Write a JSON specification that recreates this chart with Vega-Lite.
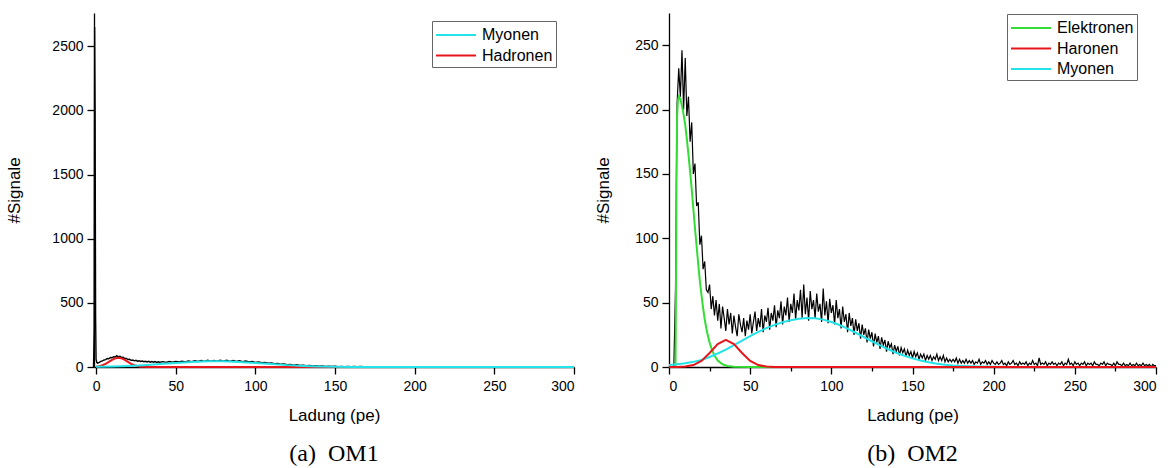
{
  "$schema": "https://vega.github.io/schema/vega-lite/v6.json",
  "background": "white",
  "padding": {"left": 5, "top": 13, "right": 5, "bottom": 5},
  "spacing": 16,
  "resolve": {"scale": {"color": "independent"}, "legend": {"color": "independent"}},
  "config": {
    "view": {"stroke": null},
    "font": "Liberation Sans",
    "axis": {"grid": false, "domainColor": "black", "tickColor": "black", "labelColor": "black", "titleColor": "black", "labelFont": "Liberation Sans", "titleFont": "Liberation Sans", "labelFontSize": 14, "titleFontSize": 17, "titleFontWeight": "normal", "domainWidth": 1.3, "tickWidth": 1.3, "format": "d",
      "tickSize": {"condition": {"test": "datum.value % 50 === 0", "value": 7}, "value": 4}},
    "legend": {"orient": "none", "symbolType": "M-2,0H2", "symbolSize": 400, "symbolStrokeWidth": 2, "symbolOffset": 10, "labelFont": "Liberation Sans", "labelFontSize": 16, "labelColor": "black", "strokeColor": "#666", "fillColor": "white", "padding": 3, "rowPadding": 1.5, "labelOffset": 15, "title": null},
    "title": {"font": "Liberation Serif", "fontSize": 24, "fontWeight": "normal", "color": "black", "orient": "bottom", "anchor": "middle"}
  },
  "datasets": {
    "l_dat": [
      {"x":-2,"y":0},{"x":-1.6,"y":0},{"x":-1.2,"y":300},{"x":-0.9,"y":2650},{"x":-0.6,"y":2000},{"x":-0.3,"y":400},{"x":0,"y":60},{"x":0.5,"y":35},
      {"x":1,"y":30},{"x":2,"y":36},{"x":3,"y":44},{"x":4,"y":47},{"x":5,"y":55},{"x":6,"y":58},{"x":7,"y":66},{"x":8,"y":64},{"x":9,"y":74},{"x":10,"y":72},
      {"x":11,"y":80},{"x":12,"y":78},{"x":13,"y":88},{"x":14,"y":80},{"x":15,"y":84},{"x":16,"y":74},{"x":17,"y":76},{"x":18,"y":66},{"x":19,"y":67},{"x":20,"y":58},
      {"x":21,"y":60},{"x":22,"y":52},{"x":23,"y":55},{"x":24,"y":48},{"x":25,"y":52},{"x":26,"y":45},{"x":27,"y":49},{"x":28,"y":43},{"x":29,"y":46},{"x":30,"y":41},
      {"x":31,"y":45},{"x":32,"y":39},{"x":33,"y":44},{"x":34,"y":38},{"x":35,"y":43},{"x":36,"y":37},{"x":37,"y":42},{"x":38,"y":36},{"x":39,"y":41},{"x":40,"y":37},
      {"x":42,"y":42},{"x":44,"y":36},{"x":46,"y":43},{"x":48,"y":38},{"x":50,"y":44},{"x":52,"y":39},{"x":54,"y":46},{"x":56,"y":40},{"x":58,"y":47},{"x":60,"y":42},
      {"x":62,"y":49},{"x":64,"y":43},{"x":66,"y":50},{"x":68,"y":44},{"x":70,"y":52},{"x":72,"y":45},{"x":74,"y":51},{"x":76,"y":46},{"x":78,"y":53},{"x":80,"y":45},
      {"x":82,"y":52},{"x":84,"y":44},{"x":86,"y":50},{"x":88,"y":43},{"x":90,"y":49},{"x":92,"y":41},{"x":94,"y":47},{"x":96,"y":39},{"x":98,"y":44},{"x":100,"y":36},
      {"x":102,"y":40},{"x":104,"y":33},{"x":106,"y":36},{"x":108,"y":29},{"x":110,"y":32},{"x":112,"y":25},{"x":114,"y":28},{"x":116,"y":21},{"x":118,"y":24},{"x":120,"y":18},
      {"x":122,"y":20},{"x":124,"y":15},{"x":126,"y":17},{"x":128,"y":12},{"x":130,"y":14},{"x":132,"y":10},{"x":134,"y":12},{"x":136,"y":8},{"x":138,"y":10},{"x":140,"y":7},
      {"x":142,"y":8},{"x":144,"y":5},{"x":146,"y":7},{"x":148,"y":4},{"x":150,"y":6},{"x":152,"y":3},{"x":154,"y":5},{"x":156,"y":3},{"x":158,"y":5},{"x":160,"y":2},
      {"x":162,"y":4},{"x":164,"y":2},{"x":166,"y":4},{"x":168,"y":2},{"x":170,"y":3},{"x":172,"y":1},{"x":174,"y":3},{"x":176,"y":1},{"x":178,"y":3},{"x":180,"y":1},
      {"x":182,"y":3},{"x":184,"y":1},{"x":186,"y":2},{"x":188,"y":1},{"x":190,"y":3},{"x":192,"y":1},{"x":194,"y":2},{"x":196,"y":1},{"x":198,"y":2},{"x":200,"y":1},
      {"x":204,"y":2},{"x":208,"y":0},{"x":212,"y":2},{"x":216,"y":1},{"x":220,"y":2},{"x":224,"y":0},{"x":228,"y":2},{"x":232,"y":1},{"x":236,"y":1},{"x":240,"y":0},
      {"x":244,"y":2},{"x":248,"y":0},{"x":252,"y":1},{"x":256,"y":0},{"x":260,"y":1},{"x":264,"y":0},{"x":268,"y":1},{"x":272,"y":0},{"x":276,"y":1},{"x":280,"y":0},
      {"x":284,"y":1},{"x":288,"y":0},{"x":292,"y":1},{"x":296,"y":0},{"x":300,"y":0}
    ],
    "l_ha": [
      {"x":0,"y":2.8},{"x":2,"y":6.7},{"x":4,"y":13.8},{"x":6,"y":25},{"x":8,"y":39.7},{"x":10,"y":55.3},{"x":12,"y":67.4},{"x":14,"y":72},{"x":16,"y":67.4},{"x":18,"y":55.3},
      {"x":20,"y":39.7},{"x":22,"y":25},{"x":24,"y":13.8},{"x":26,"y":6.7},{"x":28,"y":2.8},{"x":30,"y":1},{"x":32,"y":0.3},{"x":35,"y":0.05},{"x":40,"y":0},{"x":100,"y":0},
      {"x":200,"y":0},{"x":300,"y":0}
    ],
    "l_my": [
      {"x":0,"y":2},{"x":10,"y":4.3},{"x":20,"y":8.4},{"x":30,"y":14.6},{"x":40,"y":22.8},{"x":50,"y":31.8},{"x":60,"y":39.7},{"x":70,"y":44.4},{"x":75,"y":45},{"x":80,"y":44.4},
      {"x":90,"y":39.7},{"x":100,"y":31.8},{"x":110,"y":22.8},{"x":120,"y":14.6},{"x":130,"y":8.4},{"x":140,"y":4.3},{"x":150,"y":2},{"x":160,"y":0.8},{"x":170,"y":0.3},{"x":180,"y":0.1},
      {"x":200,"y":0},{"x":250,"y":0},{"x":300,"y":0}
    ],
    "r_dat": [
      {"x":0,"y":0},{"x":1,"y":0},{"x":2,"y":0},{"x":3,"y":1},{"x":4,"y":60},{"x":5,"y":205},{"x":6,"y":232},{"x":7,"y":210},{"x":8,"y":246},{"x":9,"y":200},
      {"x":10,"y":240},{"x":11,"y":195},{"x":12,"y":210},{"x":13,"y":175},{"x":14,"y":190},{"x":15,"y":150},{"x":16,"y":158},{"x":17,"y":125},{"x":18,"y":128},{"x":19,"y":95},
      {"x":20,"y":102},{"x":21,"y":76},{"x":22,"y":82},{"x":23,"y":60},{"x":24,"y":58},{"x":25,"y":64},{"x":26,"y":45},{"x":27,"y":55},{"x":28,"y":40},{"x":29,"y":52},
      {"x":30,"y":36},{"x":31,"y":49},{"x":32,"y":30},{"x":33,"y":47},{"x":34,"y":38},{"x":35,"y":28},{"x":36,"y":45},{"x":37,"y":33},{"x":38,"y":42},{"x":39,"y":26},
      {"x":40,"y":40},{"x":41,"y":31},{"x":42,"y":24},{"x":43,"y":41},{"x":44,"y":33},{"x":45,"y":27},{"x":46,"y":38},{"x":47,"y":24},{"x":48,"y":36},{"x":49,"y":29},
      {"x":50,"y":41},{"x":51,"y":26},{"x":52,"y":35},{"x":53,"y":43},{"x":54,"y":28},{"x":55,"y":38},{"x":56,"y":31},{"x":57,"y":45},{"x":58,"y":27},{"x":59,"y":40},
      {"x":60,"y":35},{"x":61,"y":46},{"x":62,"y":29},{"x":63,"y":42},{"x":64,"y":36},{"x":65,"y":48},{"x":66,"y":31},{"x":67,"y":44},{"x":68,"y":38},{"x":69,"y":51},
      {"x":70,"y":33},{"x":71,"y":47},{"x":72,"y":40},{"x":73,"y":54},{"x":74,"y":35},{"x":75,"y":49},{"x":76,"y":42},{"x":77,"y":57},{"x":78,"y":37},{"x":79,"y":52},
      {"x":80,"y":44},{"x":81,"y":60},{"x":82,"y":38},{"x":83,"y":64},{"x":84,"y":41},{"x":85,"y":54},{"x":86,"y":36},{"x":87,"y":59},{"x":88,"y":45},{"x":89,"y":52},
      {"x":90,"y":38},{"x":91,"y":57},{"x":92,"y":43},{"x":93,"y":49},{"x":94,"y":35},{"x":95,"y":61},{"x":96,"y":40},{"x":97,"y":51},{"x":98,"y":34},{"x":99,"y":53},
      {"x":100,"y":42},{"x":101,"y":48},{"x":102,"y":33},{"x":103,"y":52},{"x":104,"y":38},{"x":105,"y":45},{"x":106,"y":30},{"x":107,"y":47},{"x":108,"y":35},{"x":109,"y":41},
      {"x":110,"y":27},{"x":111,"y":42},{"x":112,"y":32},{"x":113,"y":38},{"x":114,"y":25},{"x":115,"y":37},{"x":116,"y":28},{"x":117,"y":34},{"x":118,"y":22},{"x":119,"y":33},
      {"x":120,"y":25},{"x":121,"y":30},{"x":122,"y":19},{"x":123,"y":29},{"x":124,"y":22},{"x":125,"y":27},{"x":126,"y":16},{"x":127,"y":26},{"x":128,"y":19},{"x":129,"y":24},
      {"x":130,"y":14},{"x":131,"y":23},{"x":132,"y":17},{"x":133,"y":21},{"x":134,"y":12},{"x":135,"y":20},{"x":136,"y":15},{"x":137,"y":18},{"x":138,"y":10},{"x":139,"y":17},
      {"x":140,"y":12},{"x":141,"y":16},{"x":142,"y":9},{"x":143,"y":15},{"x":144,"y":11},{"x":145,"y":14},{"x":146,"y":8},{"x":147,"y":13},{"x":148,"y":9},{"x":149,"y":12},
      {"x":150,"y":7},{"x":151,"y":12},{"x":152,"y":8},{"x":153,"y":11},{"x":154,"y":6},{"x":155,"y":10},{"x":156,"y":7},{"x":157,"y":10},{"x":158,"y":5},{"x":159,"y":9},
      {"x":160,"y":6},{"x":161,"y":9},{"x":162,"y":5},{"x":163,"y":8},{"x":164,"y":6},{"x":165,"y":10},{"x":166,"y":5},{"x":167,"y":8},{"x":168,"y":5},{"x":169,"y":9},
      {"x":170,"y":4},{"x":171,"y":7},{"x":172,"y":4},{"x":173,"y":6},{"x":174,"y":4},{"x":175,"y":6},{"x":176,"y":4},{"x":177,"y":7},{"x":178,"y":3},{"x":179,"y":6},
      {"x":180,"y":3},{"x":181,"y":5},{"x":182,"y":3},{"x":183,"y":6},{"x":184,"y":3},{"x":185,"y":5},{"x":186,"y":3},{"x":187,"y":5},{"x":188,"y":2},{"x":189,"y":4},
      {"x":190,"y":3},{"x":191,"y":6},{"x":192,"y":2},{"x":193,"y":4},{"x":194,"y":3},{"x":195,"y":5},{"x":196,"y":2},{"x":197,"y":4},{"x":198,"y":2},{"x":199,"y":5},
      {"x":200,"y":3},{"x":201,"y":2},{"x":202,"y":4},{"x":203,"y":2},{"x":204,"y":3},{"x":205,"y":5},{"x":206,"y":2},{"x":207,"y":3},{"x":208,"y":1},{"x":209,"y":4},
      {"x":210,"y":2},{"x":211,"y":3},{"x":212,"y":5},{"x":213,"y":2},{"x":214,"y":3},{"x":215,"y":1},{"x":216,"y":4},{"x":217,"y":2},{"x":218,"y":3},{"x":219,"y":2},
      {"x":220,"y":4},{"x":221,"y":1},{"x":222,"y":3},{"x":223,"y":2},{"x":224,"y":5},{"x":225,"y":2},{"x":226,"y":3},{"x":227,"y":1},{"x":228,"y":7},{"x":229,"y":2},
      {"x":230,"y":3},{"x":231,"y":2},{"x":232,"y":4},{"x":233,"y":1},{"x":234,"y":3},{"x":235,"y":2},{"x":236,"y":4},{"x":237,"y":2},{"x":238,"y":3},{"x":239,"y":1},
      {"x":240,"y":3},{"x":241,"y":2},{"x":242,"y":4},{"x":243,"y":1},{"x":244,"y":3},{"x":245,"y":2},{"x":246,"y":6},{"x":247,"y":2},{"x":248,"y":3},{"x":249,"y":1},
      {"x":250,"y":4},{"x":251,"y":2},{"x":252,"y":3},{"x":253,"y":1},{"x":254,"y":3},{"x":255,"y":2},{"x":256,"y":4},{"x":257,"y":1},{"x":258,"y":3},{"x":259,"y":2},
      {"x":260,"y":3},{"x":261,"y":1},{"x":262,"y":4},{"x":263,"y":2},{"x":264,"y":2},{"x":265,"y":1},{"x":266,"y":3},{"x":267,"y":2},{"x":268,"y":4},{"x":269,"y":1},
      {"x":270,"y":3},{"x":271,"y":2},{"x":272,"y":2},{"x":273,"y":1},{"x":274,"y":3},{"x":275,"y":1},{"x":276,"y":4},{"x":277,"y":2},{"x":278,"y":2},{"x":279,"y":1},
      {"x":280,"y":3},{"x":281,"y":1},{"x":282,"y":2},{"x":283,"y":1},{"x":284,"y":3},{"x":285,"y":1},{"x":286,"y":2},{"x":287,"y":1},{"x":288,"y":3},{"x":289,"y":1},
      {"x":290,"y":2},{"x":291,"y":1},{"x":292,"y":3},{"x":293,"y":1},{"x":294,"y":2},{"x":295,"y":1},{"x":296,"y":2},{"x":297,"y":0},{"x":298,"y":2},{"x":299,"y":1},
      {"x":300,"y":1}
    ],
    "r_el": [
      {"x":0,"y":0},{"x":3,"y":0},{"x":4,"y":0},{"x":4.3,"y":60},{"x":4.6,"y":150},{"x":5,"y":195},{"x":5.5,"y":207},{"x":6,"y":210},{"x":7,"y":208},{"x":8,"y":203},
      {"x":9,"y":196},{"x":10,"y":188},{"x":11,"y":177},{"x":12,"y":165},{"x":13,"y":152},{"x":14,"y":138},{"x":15,"y":123},{"x":16,"y":108},{"x":17,"y":94},{"x":18,"y":80},
      {"x":19,"y":67},{"x":20,"y":56},{"x":21,"y":46},{"x":22,"y":37},{"x":23,"y":30},{"x":24,"y":24},{"x":25,"y":19},{"x":26,"y":15},{"x":27,"y":12},{"x":28,"y":9},
      {"x":29,"y":7},{"x":30,"y":5},{"x":32,"y":3},{"x":34,"y":1.5},{"x":36,"y":0.8},{"x":40,"y":0.2},{"x":50,"y":0},{"x":100,"y":0},{"x":200,"y":0},{"x":300,"y":0}
    ],
    "r_ha": [
      {"x":0,"y":0},{"x":5,"y":0.06},{"x":10,"y":0.34},{"x":15,"y":1.5},{"x":20,"y":4.75},{"x":25,"y":10.9},{"x":30,"y":17.8},{"x":35,"y":21},{"x":40,"y":17.8},{"x":45,"y":10.9},
      {"x":50,"y":4.75},{"x":55,"y":1.5},{"x":60,"y":0.34},{"x":65,"y":0.06},{"x":70,"y":0},{"x":100,"y":0},{"x":200,"y":0},{"x":300,"y":0}
    ],
    "r_my": [
      {"x":0,"y":1.5},{"x":5,"y":2.2},{"x":10,"y":3},{"x":15,"y":4},{"x":20,"y":5.5},{"x":25,"y":7.8},{"x":30,"y":10.5},{"x":35,"y":13.5},{"x":40,"y":17},{"x":45,"y":20.5},
      {"x":50,"y":24},{"x":55,"y":27.3},{"x":60,"y":30.2},{"x":65,"y":32.7},{"x":70,"y":34.8},{"x":75,"y":36.4},{"x":80,"y":37.5},{"x":85,"y":38},{"x":90,"y":37.8},{"x":95,"y":36.8},
      {"x":100,"y":35},{"x":105,"y":32.6},{"x":110,"y":29.8},{"x":115,"y":26.6},{"x":120,"y":23.3},{"x":125,"y":20},{"x":130,"y":16.8},{"x":135,"y":13.8},{"x":140,"y":11.1},{"x":145,"y":8.7},
      {"x":150,"y":6.7},{"x":155,"y":5},{"x":160,"y":3.7},{"x":165,"y":2.6},{"x":170,"y":1.8},{"x":175,"y":1.2},{"x":180,"y":0.8},{"x":185,"y":0.5},{"x":190,"y":0.3},{"x":200,"y":0.1},
      {"x":210,"y":0},{"x":250,"y":0},{"x":300,"y":0}
    ]
  },
  "hconcat": [
    {
      "width": 480,
      "height": 354,
      "title": {"text": "(a)\u00a0\u00a0OM1", "offset": 19},
      "layer": [
        {
          "data": {"name": "l_dat"},
          "mark": {"type": "line", "color": "black", "strokeWidth": 1.4},
          "encoding": {
            "x": {"field": "x", "type": "quantitative", "scale": {"domain": [-1.3, 300], "nice": false, "zero": false},
                  "axis": {"orient": "bottom", "values": [0, 25, 50, 75, 100, 125, 150, 175, 200, 225, 250, 275, 300], "labelExpr": "datum.value % 50 === 0 ? datum.label : ''", "title": "Ladung (pe)", "labelPadding": 5, "titlePadding": 14}},
            "y": {"field": "y", "type": "quantitative", "scale": {"domain": [0, 2760], "nice": false},
                  "axis": {"orient": "left", "values": [0, 250, 500, 750, 1000, 1250, 1500, 1750, 2000, 2250, 2500, 2750], "labelExpr": "datum.value % 500 === 0 ? datum.label : ''", "tickSize": {"condition": {"test": "datum.value % 500 === 0", "value": 7}, "value": 4}, "title": "#Signale", "labelPadding": 4, "titlePadding": 28}}
          }
        },
        {
          "data": {"name": "l_ha"},
          "mark": {"type": "line", "strokeWidth": 2},
          "encoding": {
            "x": {"field": "x", "type": "quantitative"},
            "y": {"field": "y", "type": "quantitative"},
            "color": {"datum": "Hadronen", "type": "nominal", "scale": {"domain": ["Myonen", "Hadronen"], "range": ["#22e3e8", "#e8161b"]}, "legend": {"legendX": 338, "legendY": 8}}
          }
        },
        {
          "data": {"name": "l_my"},
          "mark": {"type": "line", "strokeWidth": 2},
          "encoding": {
            "x": {"field": "x", "type": "quantitative"},
            "y": {"field": "y", "type": "quantitative"},
            "color": {"datum": "Myonen", "type": "nominal"}
          }
        }
      ]
    },
    {
      "width": 487,
      "height": 354,
      "title": {"text": "(b)\u00a0\u00a0OM2", "offset": 19},
      "layer": [
        {
          "data": {"name": "r_dat"},
          "mark": {"type": "line", "color": "black", "strokeWidth": 1.2},
          "encoding": {
            "x": {"field": "x", "type": "quantitative", "scale": {"domain": [0, 300], "nice": false, "zero": false},
                  "axis": {"orient": "bottom", "values": [0, 25, 50, 75, 100, 125, 150, 175, 200, 225, 250, 275, 300], "labelExpr": "datum.value % 50 === 0 ? datum.label : ''", "title": "Ladung (pe)", "labelPadding": 5, "titlePadding": 14}},
            "y": {"field": "y", "type": "quantitative", "scale": {"domain": [0, 275], "nice": false},
                  "axis": {"orient": "left", "values": [0, 25, 50, 75, 100, 125, 150, 175, 200, 225, 250, 275], "labelExpr": "datum.value % 50 === 0 ? datum.label : ''", "title": "#Signale", "labelPadding": 4, "titlePadding": 22}}
          }
        },
        {
          "data": {"name": "r_el"},
          "mark": {"type": "line", "strokeWidth": 2},
          "encoding": {
            "x": {"field": "x", "type": "quantitative"},
            "y": {"field": "y", "type": "quantitative"},
            "color": {"datum": "Elektronen", "type": "nominal", "scale": {"domain": ["Elektronen", "Haronen", "Myonen"], "range": ["#33dd33", "#e8161b", "#22e3e8"]}, "legend": {"legendX": 338, "legendY": 1}}
          }
        },
        {
          "data": {"name": "r_my"},
          "mark": {"type": "line", "strokeWidth": 2},
          "encoding": {
            "x": {"field": "x", "type": "quantitative"},
            "y": {"field": "y", "type": "quantitative"},
            "color": {"datum": "Myonen", "type": "nominal"}
          }
        },
        {
          "data": {"name": "r_ha"},
          "mark": {"type": "line", "strokeWidth": 2},
          "encoding": {
            "x": {"field": "x", "type": "quantitative"},
            "y": {"field": "y", "type": "quantitative"},
            "color": {"datum": "Haronen", "type": "nominal"}
          }
        }
      ]
    }
  ]
}
